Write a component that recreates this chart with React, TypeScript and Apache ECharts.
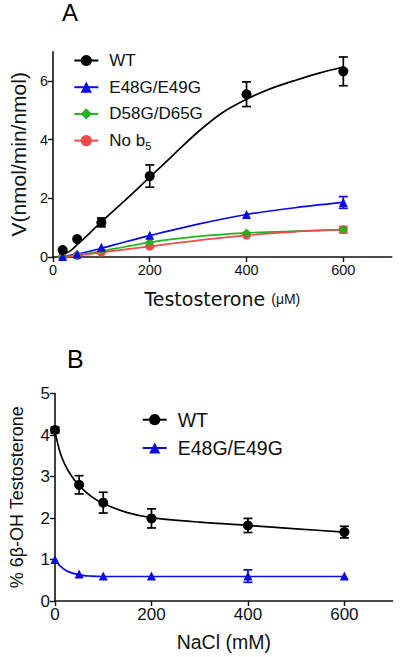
import React, { useEffect, useRef } from "react";
import * as echarts from "echarts";

// ---------- Panel A data (Testosterone, µM) ----------
const concA = [20, 50, 100, 200, 400, 600];
const wtA = [0.24, 0.61, 1.18, 2.76, 5.55, 6.33];
const wtAErr = [0, 0, 0.15, 0.38, 0.42, 0.49];
const e48A = [0.02, 0.1, 0.33, 0.74, 1.45, 1.86];
const e48AErr = [0, 0, 0, 0, 0, 0.2];
const d58A = [0.02, 0.07, 0.22, 0.5, 0.82, 0.93];
const noB5A = [0.01, 0.05, 0.17, 0.37, 0.75, 0.93];
const noB5AErr = [0, 0, 0, 0, 0, 0.11];

// fitted curves
const wtFitAX = [20, 35, 50, 75, 100, 150, 200, 250, 300, 350, 400, 450, 500, 550, 600];
const wtFitA = [0.08, 0.2, 0.42, 0.8, 1.2, 1.95, 2.72, 3.5, 4.27, 4.92, 5.38, 5.74, 6.02, 6.27, 6.48];
const lowFitAX = [20, 50, 100, 150, 200, 300, 400, 500, 600];
const e48FitA = [0.02, 0.1, 0.3, 0.52, 0.73, 1.12, 1.45, 1.68, 1.86];
const d58FitA = [0.01, 0.06, 0.2, 0.35, 0.5, 0.7, 0.82, 0.88, 0.93];
const noB5FitA = [0.01, 0.05, 0.16, 0.26, 0.36, 0.57, 0.74, 0.86, 0.93];

const xTicksA = [0, 200, 400, 600];
const yTicksA = [0, 2, 4, 6];

// ---------- Panel B data (NaCl, mM) ----------
const concB = [0, 50, 100, 200, 400, 600];
const wtB = [4.12, 2.8, 2.37, 1.99, 1.82, 1.66];
const wtBErr = [0.07, 0.22, 0.25, 0.23, 0.17, 0.14];
const e48B = [1.0, 0.65, 0.6, 0.6, 0.6, 0.6];
const e48BErr = [0, 0, 0, 0, 0.15, 0];

const wtFitBX = [0, 10, 20, 35, 50, 75, 100, 150, 200, 300, 400, 500, 600];
const wtFitB = [4.08, 3.6, 3.3, 3.0, 2.78, 2.52, 2.35, 2.13, 2.01, 1.9, 1.82, 1.74, 1.66];
const e48FitBX = [0, 10, 25, 50, 75, 100, 200, 400, 600];
const e48FitB = [1.0, 0.85, 0.72, 0.63, 0.6, 0.59, 0.59, 0.59, 0.59];

const xTicksB = [0, 200, 400, 600];
const yTicksB = [0, 1, 2, 3, 4, 5];

const BLACK = "#000000";
const BLUE = "#0a0ae6";
const GREEN = "#1fb41f";
const RED = "#f04a4a";
const FONT = "Liberation Sans";

const zip = (xs: number[], ys: number[]) => xs.map((x, i) => [x, ys[i]]);
const errData = (xs: number[], ys: number[], es: number[]) =>
  xs.map((x, i) => [x, ys[i] - es[i], ys[i] + es[i]]).filter((_, i) => es[i] > 0);

function errorSeries(idx: number, xs: number[], ys: number[], es: number[], color: string) {
  return {
    type: "custom",
    xAxisIndex: idx,
    yAxisIndex: idx,
    silent: true,
    z: 3,
    encode: { x: 0, y: [1, 2] },
    data: errData(xs, ys, es),
    renderItem: (_p: any, api: any) => {
      const x = api.value(0);
      const lo = api.coord([x, api.value(1)]);
      const hi = api.coord([x, api.value(2)]);
      const hw = 4.5;
      const st = { stroke: color, lineWidth: 1.7 };
      return {
        type: "group",
        children: [
          { type: "line", shape: { x1: lo[0], y1: lo[1], x2: hi[0], y2: hi[1] }, style: st },
          { type: "line", shape: { x1: lo[0] - hw, y1: lo[1], x2: lo[0] + hw, y2: lo[1] }, style: st },
          { type: "line", shape: { x1: hi[0] - hw, y1: hi[1], x2: hi[0] + hw, y2: hi[1] }, style: st },
        ],
      };
    },
  };
}

function fitSeries(idx: number, name: string, xs: number[], ys: number[], color: string, symbol: string, size: number) {
  return {
    type: "line",
    name,
    xAxisIndex: idx,
    yAxisIndex: idx,
    data: zip(xs, ys),
    smooth: 0.3,
    showSymbol: false,
    symbol,
    symbolSize: size,
    lineStyle: { color, width: 1.7 },
    itemStyle: { color },
    z: 2,
  };
}

function pointSeries(idx: number, xs: number[], ys: number[], color: string, symbol: string, size: number) {
  return {
    type: "scatter",
    xAxisIndex: idx,
    yAxisIndex: idx,
    data: zip(xs, ys),
    symbol,
    symbolSize: size,
    itemStyle: { color, opacity: 1 },
    z: 4,
  };
}

function axisCommon(fontSize: number) {
  return {
    axisLine: { show: true, onZero: false, lineStyle: { color: "#111", width: 1.6 } },
    axisTick: { show: true, length: 5, lineStyle: { color: "#111", width: 1.4 } },
    splitLine: { show: false },
    axisLabel: { color: "#111", fontSize, fontFamily: FONT, margin: 5 },
  };
}

export default function App() {
  const ref = useRef<HTMLDivElement>(null);
  useEffect(() => {
    if (!ref.current) return;
    const chart = echarts.init(ref.current, undefined, { renderer: "svg" });
    const axA = axisCommon(14.5);
    const axB = axisCommon(17);
    chart.setOption({
      animation: false,
      backgroundColor: "#ffffff",
      title: [
        { text: "A", left: 62, top: 0, padding: 0, textStyle: { fontSize: 24, fontWeight: "normal", color: "#000", fontFamily: FONT } },
        { text: "B", left: 67, top: 346, padding: 0, textStyle: { fontSize: 25, fontWeight: "normal", color: "#000", fontFamily: FONT } },
      ],
      grid: [
        { left: 51, top: 51.7, width: 340.7, height: 205.3 },
        { left: 54.3, top: 393.5, width: 338.3, height: 207.5 },
      ],
      legend: [
        {
          left: 73.3, top: 52, padding: 0, orient: "vertical",
          itemWidth: 24, itemHeight: 14, itemGap: 9.7,
          data: ["WT", "E48G/E49G", "D58G/D65G", "No b5"],
          formatter: (n: string) => (n === "No b5" ? "No b{sub|5}" : n),
          textStyle: {
            fontSize: 17, fontFamily: FONT, color: "#111", padding: [0, 0, 0, 6],
            rich: { sub: { fontSize: 11, fontFamily: FONT, color: "#111", padding: [10, 0, 0, 0] } },
          },
          selectedMode: false,
        },
        {
          left: 141.7, top: 409.7, padding: 0, orient: "vertical",
          itemWidth: 24, itemHeight: 14, itemGap: 8.3,
          data: ["WT", "E48G/E49G"],
          textStyle: { fontSize: 19.5, fontFamily: FONT, color: "#111", padding: [0, 0, 0, 6] },
          selectedMode: false,
        },
      ],
      xAxis: [
        {
          gridIndex: 0, type: "value", min: 0, max: 700, ...axA,
          axisTick: { ...axA.axisTick, customValues: xTicksA },
          axisLabel: { ...axA.axisLabel, customValues: xTicksA },
          name: "Testosterone {u|(μM)}", nameLocation: "middle", nameGap: 32,
          nameTextStyle: {
            fontSize: 19, fontFamily: "DejaVu Sans", color: "#111",
            rich: { u: { fontSize: 14, fontFamily: FONT, color: "#111" } },
          },
        },
        {
          gridIndex: 1, type: "value", min: 0, max: 700, ...axB,
          axisTick: { ...axB.axisTick, customValues: xTicksB },
          axisLabel: { ...axB.axisLabel, customValues: xTicksB },
          name: "NaCl (mM)", nameLocation: "middle", nameGap: 31,
          nameTextStyle: { fontSize: 19.5, fontFamily: FONT, color: "#111" },
        },
      ],
      yAxis: [
        {
          gridIndex: 0, type: "value", min: 0, max: 7, ...axA,
          axisTick: { ...axA.axisTick, customValues: yTicksA },
          axisLabel: { ...axA.axisLabel, customValues: yTicksA },
          name: "V(nmol/min/nmol)", nameLocation: "middle", nameGap: 22,
          nameTextStyle: { fontSize: 21, fontFamily: FONT, color: "#111" },
        },
        {
          gridIndex: 1, type: "value", min: 0, max: 5, ...axB,
          axisTick: { ...axB.axisTick, customValues: yTicksB },
          axisLabel: { ...axB.axisLabel, customValues: yTicksB },
          name: "% 6β-OH Testosterone", nameLocation: "middle", nameGap: 29,
          nameTextStyle: { fontSize: 18, fontFamily: FONT, color: "#111" },
        },
      ],
      series: [
        fitSeries(0, "WT", wtFitAX, wtFitA, BLACK, "circle", 9),
        fitSeries(0, "E48G/E49G", lowFitAX, e48FitA, BLUE, "triangle", 9),
        fitSeries(0, "D58G/D65G", lowFitAX, d58FitA, GREEN, "diamond", 9),
        fitSeries(0, "No b5", lowFitAX, noB5FitA, RED, "circle", 9),
        errorSeries(0, concA, wtA, wtAErr, BLACK),
        errorSeries(0, concA, e48A, e48AErr, BLUE),
        errorSeries(0, concA, noB5A, noB5AErr, RED),
        pointSeries(0, concA, noB5A, RED, "circle", 9),
        pointSeries(0, concA, d58A, GREEN, "diamond", 9),
        pointSeries(0, concA, e48A, BLUE, "triangle", 9),
        pointSeries(0, concA, wtA, BLACK, "circle", 10),
        fitSeries(1, "WT", wtFitBX, wtFitB, BLACK, "circle", 9),
        fitSeries(1, "E48G/E49G", e48FitBX, e48FitB, BLUE, "triangle", 9),
        errorSeries(1, concB, wtB, wtBErr, BLACK),
        errorSeries(1, concB, e48B, e48BErr, BLUE),
        pointSeries(1, concB, e48B, BLUE, "triangle", 9),
        pointSeries(1, concB, wtB, BLACK, "circle", 10),
      ],
    });
    return () => chart.dispose();
  }, []);
  return (
    <div
      ref={ref}
      style={{ position: "fixed", left: 0, top: 0, width: 400, height: 657, background: "#fff" }}
    />
  );
}
